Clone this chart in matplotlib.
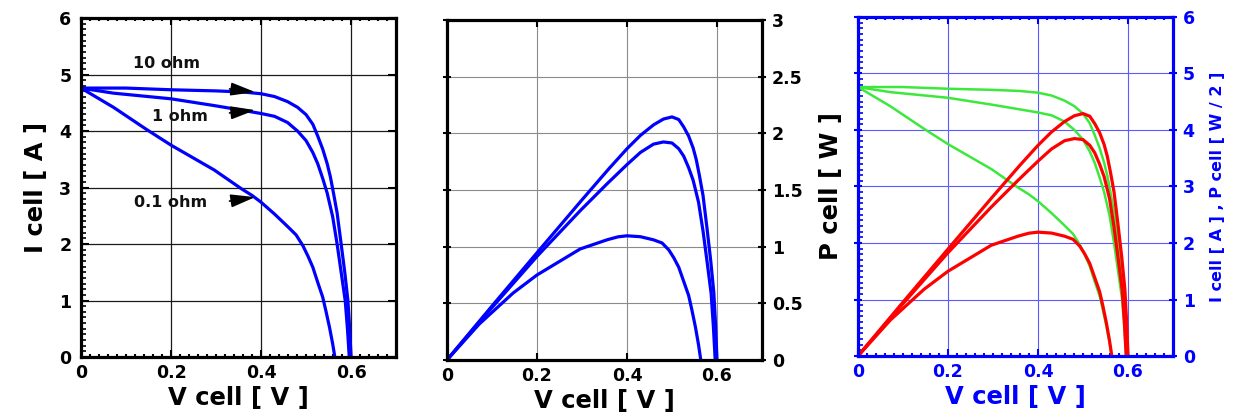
import numpy as np
import matplotlib
matplotlib.use("Agg")
import matplotlib.pyplot as plt
from matplotlib.ticker import MultipleLocator

# ---------------- data ----------------
V_10 = [0, 0.1, 0.2, 0.3, 0.36, 0.4, 0.43, 0.459, 0.481, 0.5, 0.515, 0.526, 0.537,
        0.547, 0.554, 0.561, 0.569, 0.578, 0.586, 0.593, 0.597, 0.6]
I_10 = [4.76, 4.76, 4.73, 4.71, 4.69, 4.66, 4.61, 4.52, 4.42, 4.29, 4.12, 3.91, 3.68,
        3.42, 3.19, 2.90, 2.55, 2.0, 1.5, 1.0, 0.5, 0.0]

V_1 = [0, 0.072, 0.2, 0.296, 0.356, 0.4, 0.43, 0.459, 0.481, 0.5, 0.515, 0.526, 0.537,
       0.547, 0.554, 0.559, 0.569, 0.578, 0.587, 0.592, 0.596]
I_1 = [4.76, 4.67, 4.57, 4.45, 4.37, 4.31, 4.26, 4.15, 4.0, 3.83, 3.62, 3.42, 3.16,
       2.90, 2.66, 2.49, 2.0, 1.5, 1.0, 0.5, 0.0]

V_01 = [0, 0.072, 0.147, 0.2, 0.296, 0.356, 0.38, 0.4, 0.43, 0.459, 0.478, 0.493, 0.504,
        0.515, 0.526, 0.537, 0.544, 0.552, 0.559, 0.564]
I_01 = [4.76, 4.42, 4.02, 3.75, 3.31, 2.98, 2.86, 2.74, 2.53, 2.31, 2.16, 1.97, 1.79,
        1.59, 1.32, 1.06, 0.82, 0.53, 0.24, 0.0]

curve_labels = ["10 ohm", "1 ohm", "0.1 ohm"]
label_xy = [(0.19, 5.2), (0.219, 4.25), (0.199, 2.74)]
arrow_tail = [(0.33, 4.745), (0.33, 4.32), (0.33, 2.76)]
arrow_tip = [(0.387, 4.69), (0.387, 4.37), (0.387, 2.83)]

x_ticks = [0, 0.2, 0.4, 0.6]
x_ticklabels = ["0", "0.2", "0.4", "0.6"]
y1_ticks = [0, 1, 2, 3, 4, 5, 6]
y2_ticks = [0, 0.5, 1, 1.5, 2, 2.5, 3]
y2_ticklabels = ["0", "0.5", "1", "1.5", "2", "2.5", "3"]

curves = [(V_10, I_10), (V_1, I_1), (V_01, I_01)]

# ---------------- style ----------------
plt.rcParams['font.family'] = ['DejaVu Sans']
plt.rcParams['font.weight'] = 'bold'
BLUE = '#0000ff'
GREEN = '#3de83d'
RED = '#ff0000'
TICK_FS = 12.5
LABEL_FS = 17.5

fig = plt.figure(figsize=(12.35, 4.16), dpi=100)

ax1 = fig.add_axes([0.0656, 0.1418, 0.2551, 0.8149])
ax2 = fig.add_axes([0.3619, 0.1346, 0.2551, 0.8173])
ax3 = fig.add_axes([0.6947, 0.1442, 0.2551, 0.8150])


def style_axes(ax, spine_color, grid_color, grid_lw):
    for s in ax.spines.values():
        s.set_linewidth(2.3)
        s.set_color(spine_color)
    ax.set_xlim(0, 0.7)
    ax.set_xticks(x_ticks)
    ax.set_xticklabels(x_ticklabels)
    ax.grid(True, color=grid_color, linewidth=grid_lw)
    ax.set_axisbelow(True)


# ---------------- panel 1 : I-V ----------------
style_axes(ax1, 'black', '#1a1a1a', 0.9)
ax1.set_ylim(0, 6)
ax1.set_yticks(y1_ticks)
ax1.yaxis.set_minor_locator(MultipleLocator(0.1))
ax1.xaxis.set_minor_locator(MultipleLocator(0.02))
ax1.tick_params(axis='y', which='major', direction='in', length=6, width=1.5,
                left=True, right=True, labelsize=TICK_FS, pad=7)
ax1.tick_params(axis='y', which='minor', direction='in', length=3.5, width=1.2,
                left=True, right=False)
ax1.tick_params(axis='x', which='major', direction='in', length=5, width=1.5,
                top=True, bottom=True, labelsize=TICK_FS, pad=5)
ax1.tick_params(axis='x', which='minor', direction='in', length=2, width=1.5,
                top=True, bottom=True)
for lbl in ax1.get_xticklabels() + ax1.get_yticklabels():
    lbl.set_fontweight('bold')
for V, I in curves:
    ax1.plot(V, I, color=BLUE, linewidth=2.3, solid_joinstyle='round')
for txt, xy, tail, tip in zip(curve_labels, label_xy, arrow_tail, arrow_tip):
    ax1.text(xy[0], xy[1], txt, ha='center', va='center', fontsize=11.5,
             fontweight='bold', color='#111111')
    ax1.annotate('', xy=tip, xytext=tail,
                 arrowprops=dict(arrowstyle='-|>,head_length=0.75,head_width=0.2',
                                 mutation_scale=20, color='black', lw=1.2,
                                 shrinkA=0, shrinkB=0))
ax1.set_xlabel('V cell [ V ]', fontsize=LABEL_FS, fontweight='bold', labelpad=3)
ax1.set_ylabel('I cell [ A ]', fontsize=LABEL_FS, fontweight='bold', labelpad=8)

# ---------------- panel 2 : P-V ----------------
style_axes(ax2, 'black', '#8c8c8c', 0.8)
ax2.set_ylim(0, 3)
ax2.set_yticks(y2_ticks)
ax2.set_yticklabels(y2_ticklabels)
ax2.yaxis.tick_right()
ax2.tick_params(axis='y', which='major', direction='inout', length=6, width=1.5,
                left=True, right=True, labelleft=False, labelright=True,
                labelsize=TICK_FS, pad=4)
ax2.tick_params(axis='x', which='major', direction='in', length=5, width=1.5,
                top=True, bottom=True, labelsize=TICK_FS, pad=5)
for lbl in ax2.get_xticklabels() + ax2.get_yticklabels():
    lbl.set_fontweight('bold')
for V, I in curves:
    P = np.asarray(V) * np.asarray(I)
    ax2.plot(V, P, color=BLUE, linewidth=2.3, solid_joinstyle='round')
ax2.set_xlabel('V cell [ V ]', fontsize=LABEL_FS, fontweight='bold', labelpad=3)

# ---------------- panel 3 : combined ----------------
style_axes(ax3, BLUE, '#5a5aff', 0.8)
ax3.set_ylim(0, 6)
ax3.set_yticks(y1_ticks)
ax3.yaxis.tick_right()
ax3.yaxis.set_minor_locator(MultipleLocator(0.1))
ax3.xaxis.set_minor_locator(MultipleLocator(0.02))
ax3.tick_params(axis='y', which='major', direction='inout', length=6, width=1.5,
                left=True, right=True, labelleft=False, labelright=True,
                labelsize=TICK_FS, pad=4, colors=BLUE)
ax3.tick_params(axis='y', which='minor', direction='in', length=3.5, width=1.2,
                left=True, right=False, colors=BLUE)
ax3.tick_params(axis='x', which='major', direction='in', length=5, width=1.5,
                top=True, bottom=True, labelsize=TICK_FS, pad=5, colors=BLUE)
ax3.tick_params(axis='x', which='minor', direction='in', length=2, width=1.5,
                top=True, bottom=True, colors=BLUE)
for lbl in ax3.get_xticklabels() + ax3.get_yticklabels():
    lbl.set_fontweight('bold')
for V, I in curves:
    ax3.plot(V, I, color=GREEN, linewidth=1.8, solid_joinstyle='round')
for V, I in curves:
    P2 = 2 * np.asarray(V) * np.asarray(I)
    ax3.plot(V, P2, color=RED, linewidth=2.3, solid_joinstyle='round')
ax3.yaxis.set_label_position('left')
ax3.set_ylabel('P cell [ W ]', fontsize=LABEL_FS, fontweight='bold', color='black',
               labelpad=8)
ax3.set_xlabel('V cell [ V ]', fontsize=LABEL_FS, fontweight='bold', color=BLUE,
               labelpad=3)
ax3.text(1.14, 0.5, 'I cell [ A ] , P cell [ W / 2 ]', transform=ax3.transAxes,
         rotation=90, ha='center', va='center', fontsize=11.5, fontweight='bold',
         color=BLUE)

fig.savefig('out.png', dpi=100)
